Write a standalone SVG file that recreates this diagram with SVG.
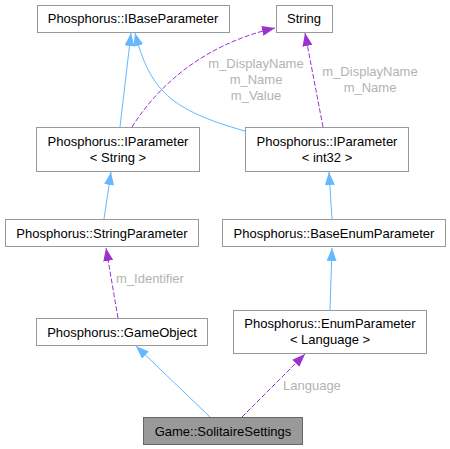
<svg xmlns="http://www.w3.org/2000/svg" width="450" height="449" viewBox="0 0 450 449">
<style>
.node rect{fill:#ffffff;stroke:#999999;stroke-width:1}
.node.hl rect{fill:#999999;stroke:#666666}
text{font-family:"Liberation Sans",Arial,sans-serif;font-size:13px;fill:#000000;text-anchor:middle}
.lbl{fill:#b3b3b3}
.inh{fill:none;stroke:#63b8ff;stroke-width:1}
.use{fill:none;stroke:#9a32cd;stroke-width:1;stroke-dasharray:5,2}
</style>
<defs>
<marker id="ab" viewBox="0 0 13 10" refX="13" refY="5" markerWidth="13" markerHeight="10" markerUnits="userSpaceOnUse" orient="auto"><path d="M0,0 L13,5 L0,10 z" fill="#63b8ff"/></marker>
<marker id="ap" viewBox="0 0 13 10" refX="13" refY="5" markerWidth="13" markerHeight="10" markerUnits="userSpaceOnUse" orient="auto"><path d="M0,0 L13,5 L0,10 z" fill="#9a32cd"/></marker>
</defs>
<rect width="450" height="449" fill="#ffffff"/>
<g id="connectors">
<path class="inh" d="M120,127 L131,33" marker-end="url(#ab)"/>
<path class="inh" d="M245,131 C170,110 150,90 135,33" marker-end="url(#ab)"/>
<path class="use" d="M132,127 C155,90 200,45 275,28" marker-end="url(#ap)"/>
<path class="use" d="M323,127 L305,33" marker-end="url(#ap)"/>
<path class="inh" d="M104,219 L111,172" marker-end="url(#ab)"/>
<path class="inh" d="M332,219 L329,172" marker-end="url(#ab)"/>
<path class="use" d="M118,318 L106,248" marker-end="url(#ap)"/>
<path class="inh" d="M330,310 L332,248" marker-end="url(#ab)"/>
<path class="inh" d="M210,417 L136,346" marker-end="url(#ab)"/>
<path class="use" d="M242,417 L305,354" marker-end="url(#ap)"/>
<text class="lbl" x="256" y="68">m_DisplayName</text>
<text class="lbl" x="256" y="84">m_Name</text>
<text class="lbl" x="256" y="100">m_Value</text>
<text class="lbl" x="370" y="76">m_DisplayName</text>
<text class="lbl" x="370" y="92">m_Name</text>
<text class="lbl" x="116" y="283" style="text-anchor:start">m_Identifier</text>
<text class="lbl" x="283" y="390" style="text-anchor:start">Language</text>
</g>
<g id="IBaseParameter" class="node"><rect x="37.5" y="5.5" width="192" height="27"/><text x="133" y="23">Phosphorus::IBaseParameter</text></g>
<g id="String" class="node"><rect x="276.5" y="5.5" width="56" height="27"/><text x="304" y="23">String</text></g>
<g id="IParameterString" class="node"><rect x="36.5" y="127.5" width="163" height="44"/><text x="118" y="146">Phosphorus::IParameter</text><text x="118" y="162">&lt; String &gt;</text></g>
<g id="IParameterInt32" class="node"><rect x="245.5" y="127.5" width="163" height="44"/><text x="327" y="146">Phosphorus::IParameter</text><text x="327" y="162">&lt; int32 &gt;</text></g>
<g id="StringParameter" class="node"><rect x="5.5" y="219.5" width="193" height="27"/><text x="102" y="238">Phosphorus::StringParameter</text></g>
<g id="BaseEnumParameter" class="node"><rect x="222.5" y="219.5" width="223" height="27"/><text x="334" y="238">Phosphorus::BaseEnumParameter</text></g>
<g id="GameObject" class="node"><rect x="36.5" y="318.5" width="171" height="27"/><text x="122" y="337">Phosphorus::GameObject</text></g>
<g id="EnumParameter" class="node"><rect x="233.5" y="310.5" width="193" height="43"/><text x="330" y="328">Phosphorus::EnumParameter</text><text x="330" y="344">&lt; Language &gt;</text></g>
<g id="SolitaireSettings" class="node hl"><rect x="143.5" y="417.5" width="159" height="27"/><text x="223" y="436">Game::SolitaireSettings</text></g>
</svg>
